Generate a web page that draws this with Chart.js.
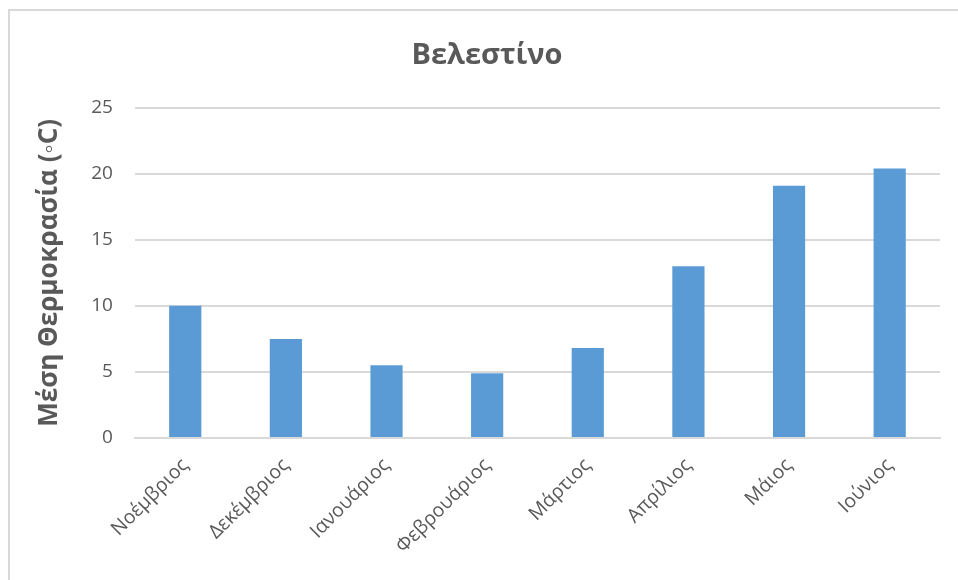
<!DOCTYPE html>
<html>
<head>
<meta charset="utf-8">
<script src="https://cdn.jsdelivr.net/npm/chart.js@4"></script>
<style>
  html, body { margin: 0; padding: 0; background: #fff; }
  #wrap { position: relative; width: 958px; height: 580px; }
  #frame { position: absolute; left: 8px; top: 9px; right: 0; bottom: 0;
           border-top: 2px solid #d9d9d9; border-left: 2px solid #d9d9d9; }
  canvas { position: absolute; left: 0; top: 0; }
</style>
</head>
<body>
<div id="wrap">
  <div id="frame"></div>
  <canvas id="barChart" width="958" height="580"></canvas>
</div>
<script>
const months = ["Νοέμβριος", "Δεκέμβριος", "Ιανουάριος", "Φεβρουάριος", "Μάρτιος", "Απρίλιος", "Μάιος", "Ιούνιος"];
const meanTemp = [10.0, 7.5, 5.5, 4.9, 6.8, 13.0, 19.1, 20.4];
const yTicks = [0, 5, 10, 15, 20, 25];

const font = "'Open Sans', 'Noto Sans', sans-serif";
const grey = "#595959";

const ctx = document.getElementById("barChart").getContext("2d");
new Chart(ctx, {
  type: "bar",
  data: {
    labels: months,
    datasets: [{
      data: meanTemp,
      backgroundColor: "#5b9bd5",
      borderWidth: 0,
      barPercentage: 0.32,
      categoryPercentage: 1
    }]
  },
  options: {
    responsive: false,
    animation: false,
    layout: { padding: { left: 34, right: 18, top: 38, bottom: 14 } },
    plugins: {
      legend: { display: false },
      tooltip: { enabled: false },
      title: {
        display: true,
        text: "Βελεστίνο",
        color: grey,
        font: { family: font, size: 29, weight: "bold" },
        padding: { top: 0, bottom: 35 }
      }
    },
    scales: {
      x: {
        grid: { display: false },
        border: { color: "#d9d9d9", width: 2 },
        ticks: {
          color: grey,
          font: { family: font, size: 19.5 },
          minRotation: 45,
          maxRotation: 45,
          padding: 8
        }
      },
      y: {
        min: 0,
        max: 25,
        afterBuildTicks: axis => { axis.ticks = yTicks.map(v => ({ value: v })); },
        grid: { color: "#d9d9d9", lineWidth: 2, drawTicks: false },
        border: { display: false },
        ticks: {
          color: grey,
          font: { family: font, size: 19 },
          padding: 22
        },
        title: {
          display: true,
          text: "Μέση Θερμοκρασία (◦C)",
          color: grey,
          font: { family: font, size: 26, weight: "bold" },
          padding: { top: 0, bottom: 4 }
        }
      }
    }
  }
});
</script>
</body>
</html>
